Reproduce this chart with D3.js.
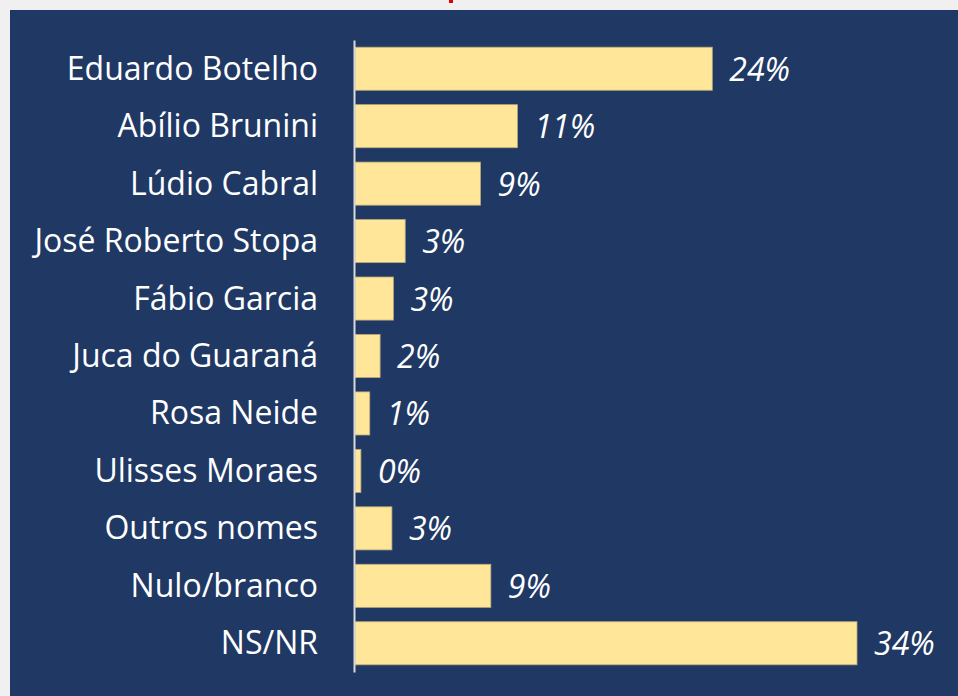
<!DOCTYPE html>
<html>
<head>
<meta charset="utf-8">
<script src="https://cdn.jsdelivr.net/npm/d3@7"></script>
<style>
  html, body { margin: 0; padding: 0; background: #f0f0f0; }
  svg { display: block; }
</style>
</head>
<body>
<svg></svg>
<script>
// data
const names = ['Eduardo Botelho', 'Abílio Brunini', 'Lúdio Cabral', 'José Roberto Stopa', 'Fábio Garcia',
  'Juca do Guaraná', 'Rosa Neide', 'Ulisses Moraes', 'Outros nomes', 'Nulo/branco', 'NS/NR']
const values = [24.2, 11.0, 8.5, 3.4, 2.6, 1.7, 1.0, 0.4, 2.5, 9.2, 34.0]
const valueLabels = ['24%', '11%', '9%', '3%', '3%', '2%', '1%', '0%', '3%', '9%', '34%']

const w = 958
const h = 696
const axisX = 354

let svg = d3.select('svg')
  .attr('width', w)
  .attr('height', h)

// dark panel
svg.append('rect')
  .attr('x', 10)
  .attr('y', 10)
  .attr('width', w - 10)
  .attr('height', h - 10)
  .attr('fill', '#203864')

// bit of red title cut off at the top
svg.append('rect')
  .attr('x', 449)
  .attr('y', 0)
  .attr('width', 4)
  .attr('height', 3)
  .attr('fill', '#e00000')

let xScale = d3.scaleLinear()
  .domain([0, 34])
  .range([axisX + 1, 857])

let yScale = d3.scaleBand()
  .domain(names)
  .range([40, 672])
  .paddingInner(0.25)
  .paddingOuter(0.125)

let rows = names.map((n, i) => ({ name: n, value: values[i], label: valueLabels[i] }))

svg.selectAll('rect.bar')
  .data(rows)
  .enter()
  .append('rect')
  .attr('class', 'bar')
  .attr('x', xScale(0))
  .attr('y', d => yScale(d.name))
  .attr('width', d => xScale(d.value) - xScale(0))
  .attr('height', yScale.bandwidth())
  .attr('fill', '#ffe699')
  .attr('stroke', '#b8a87a')
  .attr('stroke-width', 0.8)

// category labels
svg.selectAll('text.cat')
  .data(rows)
  .enter()
  .append('text')
  .attr('class', 'cat')
  .attr('x', 318)
  .attr('y', d => yScale(d.name) + yScale.bandwidth() / 2 + 11)
  .attr('text-anchor', 'end')
  .attr('fill', '#ffffff')
  .style('font-family', '"Open Sans", sans-serif')
  .style('font-size', '32px')
  .text(d => d.name)

// value labels
svg.selectAll('text.val')
  .data(rows)
  .enter()
  .append('text')
  .attr('class', 'val')
  .attr('x', d => xScale(d.value) + 17)
  .attr('y', d => yScale(d.name) + yScale.bandwidth() / 2 + 12)
  .attr('fill', '#ffffff')
  .style('font-family', '"Open Sans", sans-serif')
  .style('font-style', 'italic')
  .style('font-size', '32px')
  .text(d => d.label)

// axis line (no ticks)
let yAxis = d3.axisLeft(yScale).tickSize(0).tickFormat('')
let gAxis = svg.append('g')
  .attr('transform', 'translate(' + axisX + ', 0)')
  .call(yAxis)
gAxis.select('.domain')
  .attr('stroke', '#d9d9d9')
  .attr('stroke-width', 2)
</script>
</body>
</html>
